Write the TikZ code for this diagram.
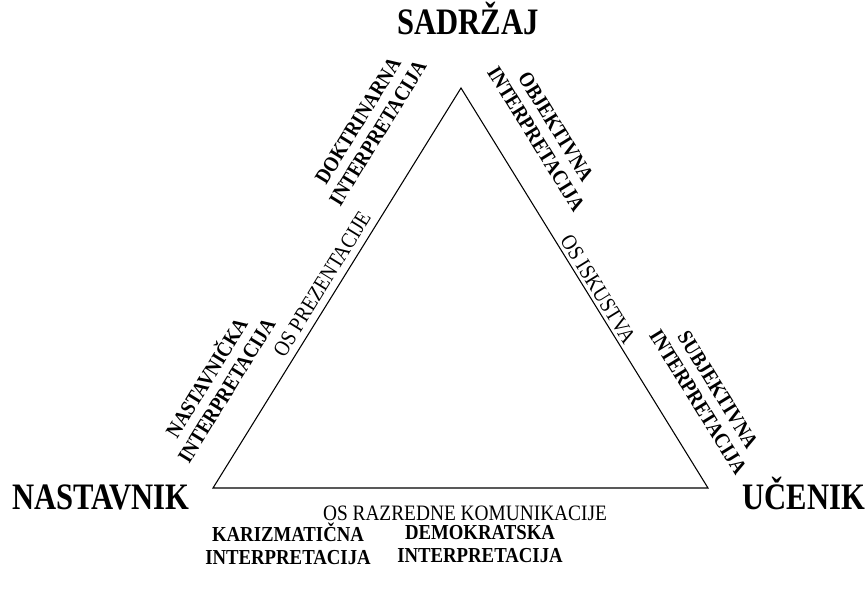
\documentclass[tikz,border=0pt]{standalone}
\usepackage{fontspec}
\setmainfont{Liberation Serif}
\newfontfamily\narrowbig[FakeStretch=0.82]{Liberation Serif}
\newfontfamily\narrowbold[FakeStretch=0.88]{Liberation Serif}
\newfontfamily\narrowreg[FakeStretch=0.88]{Liberation Serif}
\begin{document}
\begin{tikzpicture}[x=0.75pt,y=0.75pt,
  corner/.style={font=\narrowbig\bfseries\fontsize{28}{32}\selectfont, inner sep=0pt, anchor=base},
  interp/.style={font=\narrowbold\bfseries\fontsize{16}{17.5}\selectfont, align=center, inner sep=0pt},
  axislabel/.style={font=\narrowreg\fontsize{16.5}{20}\selectfont, inner sep=0pt},
  sideline/.style={line width=0.8pt, line join=miter}]
\useasboundingbox (0,0) rectangle (867,590);

% triangle corners
\coordinate (top) at (461,502);
\coordinate (left) at (213,102);
\coordinate (right) at (708,102);
\draw[sideline] (top) -- (left) -- (right) -- cycle;

% corner names
\node[corner] (sadrzaj) at (468,555) {SADRŽAJ};
\node[corner] (nastavnik) at (101,81) {NASTAVNIK};
\node[corner] (ucenik) at (804,81) {UČENIK};

% axis names along the sides
\node[axislabel, anchor=base] (osrk) at (465,70) {OS RAZREDNE KOMUNIKACIJE};
\node[axislabel, rotate=58.3] (osp) at (322,306) {OS PREZENTACIJE};
\node[axislabel, rotate=-58.3] (osi) at (598,301) {OS ISKUSTVA};

% interpretations
\node[interp, rotate=58.3] (doktr) at (368,463) {DOKTRINARNA\\INTERPRETACIJA};
\node[interp, rotate=-58.3] (objek) at (546,457) {OBJEKTIVNA\\INTERPRETACIJA};
\node[interp, rotate=58.3] (nastav) at (215,207) {NASTAVNIČKA\\INTERPRETACIJA};
\node[interp, rotate=-58.3] (subjek) at (708,194) {SUBJEKTIVNA\\INTERPRETACIJA};
\node[interp] (kariz) at (288,46) {KARIZMATIČNA\\INTERPRETACIJA};
\node[interp] (demok) at (480,46) {DEMOKRATSKA\\INTERPRETACIJA};
\end{tikzpicture}
\end{document}
